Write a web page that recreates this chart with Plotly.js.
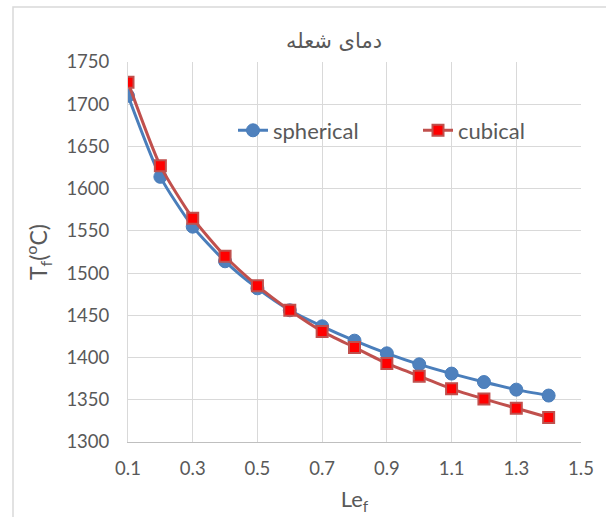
<!DOCTYPE html>
<html>
<head>
<meta charset="utf-8">
<script src="https://cdn.plot.ly/plotly-3.0.1.min.js"></script>
<style>html,body{margin:0;padding:0;background:#fff;}#chart{width:606px;height:517px;}</style>
</head>
<body>
<div id="chart"></div>
<script>
const chartTitle = "دمای شعله";
const xTitle = "Le<sub>f</sub>";
const yTitle = "T<sub>f</sub>(<sup>o</sup>C)";
const seriesNames = ["spherical", "cubical"];
const lef = [0.1, 0.2, 0.3, 0.4, 0.5, 0.6, 0.7, 0.8, 0.9, 1.0, 1.1, 1.2, 1.3, 1.4];
const spherical = [1710, 1614, 1555, 1514, 1482, 1456, 1437, 1420, 1405, 1392, 1381, 1371, 1362, 1355];
const cubical   = [1726, 1627, 1565, 1520, 1485, 1456, 1431, 1412, 1393, 1378, 1363, 1351, 1340, 1329];
const xTickVals = [0.1, 0.3, 0.5, 0.7, 0.9, 1.1, 1.3, 1.5];
const xTickText = ["0.1", "0.3", "0.5", "0.7", "0.9", "1.1", "1.3", "1.5"];
const yTickVals = [1300, 1350, 1400, 1450, 1500, 1550, 1600, 1650, 1700, 1750];

const W = 606, H = 517;
const mL = 128, mR = 25, mT = 62, mB = 75;
const pw = W - mL - mR, ph = H - mT - mB;
const grey = "#595959";
const baseFont = "Lato, 'DejaVu Sans', sans-serif";

const traces = [
  {
    x: lef, y: spherical, name: seriesNames[0], type: "scatter", mode: "lines+markers",
    line: {color: "#4a7ebb", width: 3, shape: "spline", smoothing: 0.6},
    marker: {symbol: "circle", size: 13, color: "#4f81bd", line: {color: "#4a7ebb", width: 1}}
  },
  {
    x: lef, y: cubical, name: seriesNames[1], type: "scatter", mode: "lines+markers",
    line: {color: "#c0504d", width: 3, shape: "spline", smoothing: 0.6},
    marker: {symbol: "square", size: 11, color: "#ff0000", line: {color: "#c0504d", width: 2}}
  }
];

const layout = {
  width: W, height: H,
  margin: {l: mL, r: mR, t: mT, b: mB, pad: 0, autoexpand: false},
  paper_bgcolor: "#ffffff", plot_bgcolor: "#ffffff",
  font: {family: baseFont, color: grey, size: 18},
  title: {
    text: chartTitle, font: {family: "'DejaVu Sans', sans-serif", size: 21, color: grey},
    x: 334 / W, xanchor: "center", y: 1 - 41 / H, yanchor: "middle"
  },
  xaxis: {
    range: [0.1, 1.5], tickvals: xTickVals, ticktext: xTickText,
    showgrid: true, gridcolor: "#d9d9d9", gridwidth: 1,
    showline: true, linecolor: "#bfbfbf", linewidth: 1,
    zeroline: false, ticks: "", ticklabelstandoff: 10,
    tickfont: {size: 18.5, color: grey},
    title: {text: xTitle, font: {size: 22, color: grey}, standoff: 13},
    automargin: false, fixedrange: true
  },
  yaxis: {
    range: [1300, 1750], tickvals: yTickVals,
    showgrid: true, gridcolor: "#d9d9d9", gridwidth: 1,
    showline: true, linecolor: "#d9d9d9", linewidth: 1,
    zeroline: false, ticks: "", ticklabelstandoff: 14,
    tickfont: {size: 18.5, color: grey},
    title: {text: yTitle, font: {size: 23, color: grey}, standoff: 12},
    automargin: false, fixedrange: true
  },
  showlegend: true,
  legend: {
    orientation: "h", x: (233 - mL) / pw, xanchor: "left",
    y: (H - mB - 130.5) / ph, yanchor: "middle",
    bgcolor: "rgba(0,0,0,0)", borderwidth: 0,
    font: {size: 22, color: grey},
    entrywidth: 140, entrywidthmode: "pixels", itemwidth: 30
  },
  shapes: [{
    type: "rect", xref: "paper", yref: "paper", layer: "below",
    x0: (13 - mL) / pw, x1: 1 + (mR + 10) / pw,
    y0: -(mB + 10) / ph, y1: 1 + (mT - 7) / ph,
    line: {color: "#d9d9d9", width: 1.5}
  }]
};

Plotly.newPlot("chart", traces, layout, {displayModeBar: false, staticPlot: true});
</script>
</body>
</html>
